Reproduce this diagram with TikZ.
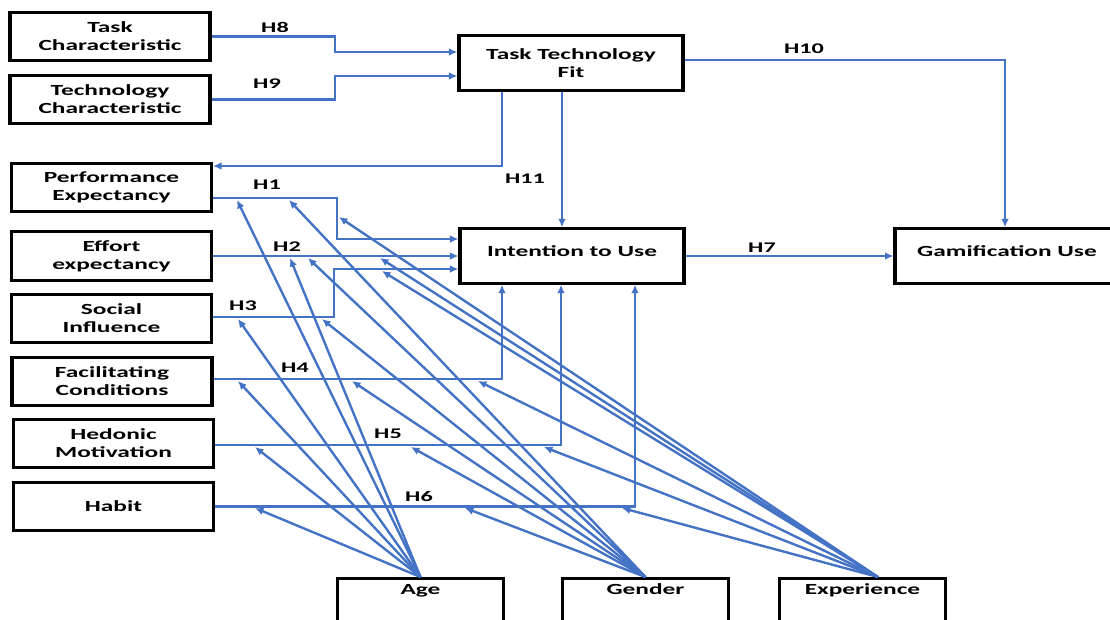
\documentclass[tikz,border=0pt]{standalone}
\usepackage{fontspec}
\usetikzlibrary{arrows.meta}

\newfontfamily\diagfont{Carlito}[FakeStretch=1.64]
\newcommand{\boxfont}{\diagfont\bfseries\fontsize{11}{12.8}\selectfont}
\newcommand{\hypfont}{\diagfont\bfseries\fontsize{10.5}{12}\selectfont}
\definecolor{lineblue}{RGB}{68,114,196}

\tikzset{
    constr/.style={draw, line width=2.2pt, minimum width=5cm, minimum height=1.22cm,
        align=center, inner sep=2pt, font=\boxfont},
    mainbox/.style={constr, minimum width=5.6cm, minimum height=1.36cm},
    midtext/.style={text height=8pt, text depth=8pt},
    modbox/.style={draw, line width=2.2pt, minimum width=4.15cm, anchor=north,
        inner sep=3pt, text height=8.5pt, text depth=40pt, font=\boxfont},
    hyp/.style={font=\hypfont, inner sep=0pt},
    link/.style={lineblue, line width=1.7pt, ->},
}

\begin{document}
\begin{tikzpicture}[x=0.025cm, y=-0.025cm, >={Latex[length=6pt,width=5.5pt]}]

    % 1. Page frame (pixel grid 1110 x 619)
    \useasboundingbox (0,0) rectangle (1110,619);

    % 2. Constructs
    \node[constr] (taskc)   at (110,36.5)  {Task\\Characteristic};
    \node[constr] (techc)   at (110,99.5)  {Technology\\Characteristic};
    \node[constr] (perf)    at (111.5,187.5) {Performance\\Expectancy};
    \node[constr] (effort)  at (111.5,256) {Effort\\expectancy};
    \node[constr] (social)  at (111.5,318.5) {Social\\Influence};
    \node[constr] (facil)   at (112,381.5) {Facilitating\\Conditions};
    \node[constr] (hedonic) at (113.5,443.5) {Hedonic\\Motivation};
    \node[constr] (habit)   at (113.5,506.5) {Habit};

    \node[mainbox] (ttf) at (571,63) {Task Technology\\Fit};
    \node[mainbox, midtext] (itu) at (572,256) {Intention to Use};
    \node[mainbox, midtext] (gam) at (1007,256) {Gamification Use};

    % moderators (boxes run off the bottom edge)
    \node[modbox] (age)    at (420.5,577) {Age};
    \node[modbox] (gender) at (645.5,577) {Gender};
    \node[modbox] (exper)  at (862.5,577) {Experience};

    % 3. Hypothesis paths
    \draw[link] (taskc.east) -| (335,52) -- (ttf.west |- 0,52);
    \draw[link] (techc.east) -| (335,76) -- (ttf.west |- 0,76);
    \draw[link] (ttf.east |- 0,60) -| (gam.north -| 1005,0);
    \draw[link] (ttf.south -| 562,0) -- (itu.north -| 562,0);
    \draw[link] (ttf.south -| 502,0) |- (perf.east |- 0,166);
    \draw[link] (itu.east) -- (gam.west);

    \draw[link] (perf.east |- 0,198) -| (337,239) -- (itu.west |- 0,239);
    \draw[link] (effort.east) -- (itu.west |- effort.east);
    \draw[link] (social.east |- 0,317) -| (334,269) -- (itu.west |- 0,269);
    \draw[link] (facil.east |- 0,379) -| (itu.south -| 502,0);
    \draw[link] (hedonic.east |- 0,445) -| (itu.south -| 561,0);
    \draw[link] (habit.east) -| (itu.south -| 635,0);

    % 4. Moderating effects
    % Age
    \draw[link] (age.north) -- (237,200);
    \draw[link] (age.north) -- (290,258);
    \draw[link] (age.north) -- (238,319);
    \draw[link] (age.north) -- (238,381);
    \draw[link] (age.north) -- (255,447);
    \draw[link] (age.north) -- (255,508);
    % Gender
    \draw[link] (gender.north) -- (289,200);
    \draw[link] (gender.north) -- (308,258);
    \draw[link] (gender.north) -- (322,319);
    \draw[link] (gender.north) -- (352,381);
    \draw[link] (gender.north) -- (411,447);
    \draw[link] (gender.north) -- (465,508);
    % Experience
    \draw[link] (exper.north -| 878,0) -- (339,217);
    \draw[link] (exper.north -| 878,0) -- (380,258);
    \draw[link] (exper.north -| 878,0) -- (382,271);
    \draw[link] (exper.north -| 878,0) -- (478,381);
    \draw[link] (exper.north -| 878,0) -- (544,447);
    \draw[link] (exper.north -| 878,0) -- (622,508);

    % 5. Labels
    \node[hyp] (h8)  at (275,27)  {H8};
    \node[hyp] (h9)  at (267,84)  {H9};
    \node[hyp] (h10) at (804,49)  {H10};
    \node[hyp] (h11) at (525,179) {H11};
    \node[hyp] (h7)  at (762,248) {H7};
    \node[hyp] (h1)  at (267,185) {H1};
    \node[hyp] (h2)  at (287,247) {H2};
    \node[hyp] (h3)  at (243,306) {H3};
    \node[hyp] (h4)  at (295,368) {H4};
    \node[hyp] (h5)  at (388,434) {H5};
    \node[hyp] (h6)  at (419,497) {H6};

\end{tikzpicture}
\end{document}
